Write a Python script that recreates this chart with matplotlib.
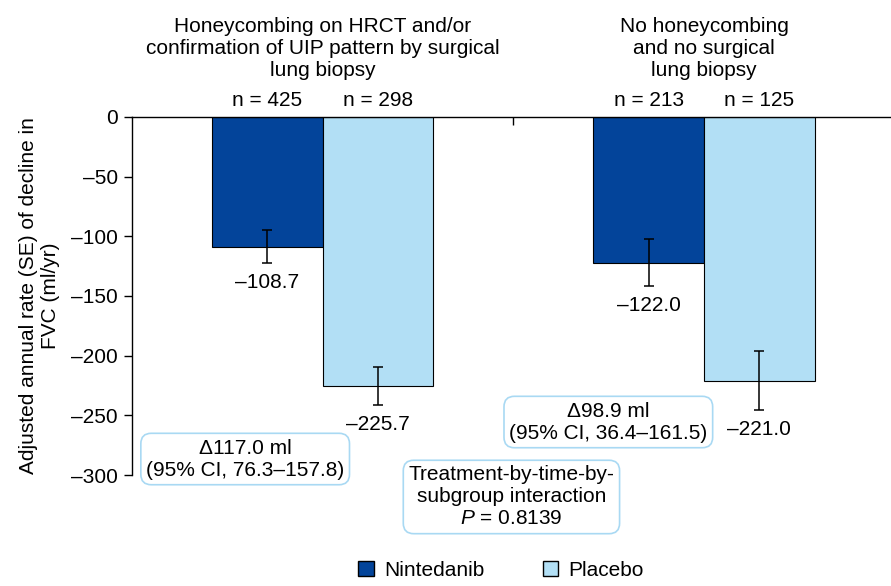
import numpy as np
import matplotlib
matplotlib.use("Agg")
import matplotlib.pyplot as plt
from matplotlib.ticker import FuncFormatter
from matplotlib.patches import Patch

plt.rcParams["font.family"] = ["Liberation Sans", "DejaVu Sans"]
plt.rcParams["mathtext.fontset"] = "custom"
plt.rcParams["mathtext.it"] = "Liberation Sans:italic"
plt.rcParams["mathtext.rm"] = "Liberation Sans"

# data
groups = ["Honeycombing on HRCT and/or\nconfirmation of UIP pattern by surgical\nlung biopsy",
          "No honeycombing\nand no surgical\nlung biopsy"]
nintedanib = [-108.7, -122.0]
placebo = [-225.7, -221.0]
nintedanib_se = [13.8, 19.7]
placebo_se = [16.0, 24.5]
n_nintedanib = [425, 213]
n_placebo = [298, 125]
diff_labels = ["\u0394117.0 ml\n(95% CI, 76.3\u2013157.8)",
               "\u039498.9 ml\n(95% CI, 36.4\u2013161.5)"]
interaction_label = "Treatment-by-time-by-\nsubgroup interaction\n$P$ = 0.8139"

dark_blue = "#03449a"
light_blue = "#b2dff5"
box_edge = "#a9d9f3"
fs = 15

fig = plt.figure(figsize=(8.91, 5.86), dpi=100)
ax = fig.add_axes([0.148, 0.1894, 0.852, 0.611])

x = np.array([1.0, 2.0])
w = 0.29
ax.bar(x - w / 2, nintedanib, w, color=dark_blue, edgecolor="black", linewidth=0.8, label="Nintedanib")
ax.bar(x + w / 2, placebo, w, color=light_blue, edgecolor="black", linewidth=0.8, label="Placebo")
ax.errorbar(x - w / 2, nintedanib, yerr=nintedanib_se, fmt="none", ecolor="black",
            elinewidth=1.1, capsize=3.5, capthick=1.1)
ax.errorbar(x + w / 2, placebo, yerr=placebo_se, fmt="none", ecolor="black",
            elinewidth=1.1, capsize=3.5, capthick=1.1)

# value labels below error bars
for xi, v, se in zip(x - w / 2, nintedanib, nintedanib_se):
    ax.text(xi, v - se - 8, f"\u2013{abs(v):.1f}", ha="center", va="top", fontsize=fs)
for xi, v, se in zip(x + w / 2, placebo, placebo_se):
    ax.text(xi, v - se - 8, f"\u2013{abs(v):.1f}", ha="center", va="top", fontsize=fs, clip_on=False)

# group titles and n
for xi, g, n1, n2 in zip(x, groups, n_nintedanib, n_placebo):
    ax.text(xi, 34, g, ha="center", va="baseline", fontsize=fs, linespacing=1.2, clip_on=False)
    ax.text(xi - w / 2, 9, f"n = {n1}", ha="center", va="baseline", fontsize=fs, clip_on=False)
    ax.text(xi + w / 2, 9, f"n = {n2}", ha="center", va="baseline", fontsize=fs, clip_on=False)

box = dict(boxstyle="round,pad=0.25,rounding_size=0.5", facecolor="white", edgecolor=box_edge, linewidth=1.2)
ax.text(0.797, -286.6, diff_labels[0], ha="center", va="center", fontsize=fs, bbox=box, clip_on=False)
ax.text(1.749, -255.6, diff_labels[1], ha="center", va="center", fontsize=fs, bbox=box, clip_on=False)
ax.text(1.495, -318.4, interaction_label, ha="center", va="center", fontsize=fs, bbox=box, clip_on=False)

ax.set_xlim(0.5, 2.49)
ax.set_ylim(-300, 0)
ax.set_yticks(np.arange(-300, 1, 50))
ax.yaxis.set_major_formatter(FuncFormatter(lambda v, p: "0" if v == 0 else f"\u2013{abs(v):.0f}"))
ax.tick_params(axis="y", direction="out", length=6, width=1, labelsize=fs, pad=4)
ax.xaxis.tick_top()
ax.set_xticks([1.5])
ax.tick_params(axis="x", direction="in", length=6, width=1, labeltop=False, labelbottom=False)
for s in ["bottom", "right"]:
    ax.spines[s].set_visible(False)
ax.spines["left"].set_linewidth(1)
ax.spines["top"].set_linewidth(1)
ax.set_ylabel("Adjusted annual rate (SE) of decline in\nFVC (ml/yr)", fontsize=fs, labelpad=8)

handles = [Patch(facecolor=dark_blue, edgecolor="black", linewidth=1, label="Nintedanib"),
           Patch(facecolor=light_blue, edgecolor="black", linewidth=1, label="Placebo")]
fig.legend(handles=handles, loc="center", bbox_to_anchor=(501 / 891, 1 - 570 / 586), ncol=2,
           frameon=False, fontsize=fs, handlelength=0.75, handleheight=0.75,
           handletextpad=0.5, columnspacing=2.8)

fig.savefig("out.png", dpi=100)
